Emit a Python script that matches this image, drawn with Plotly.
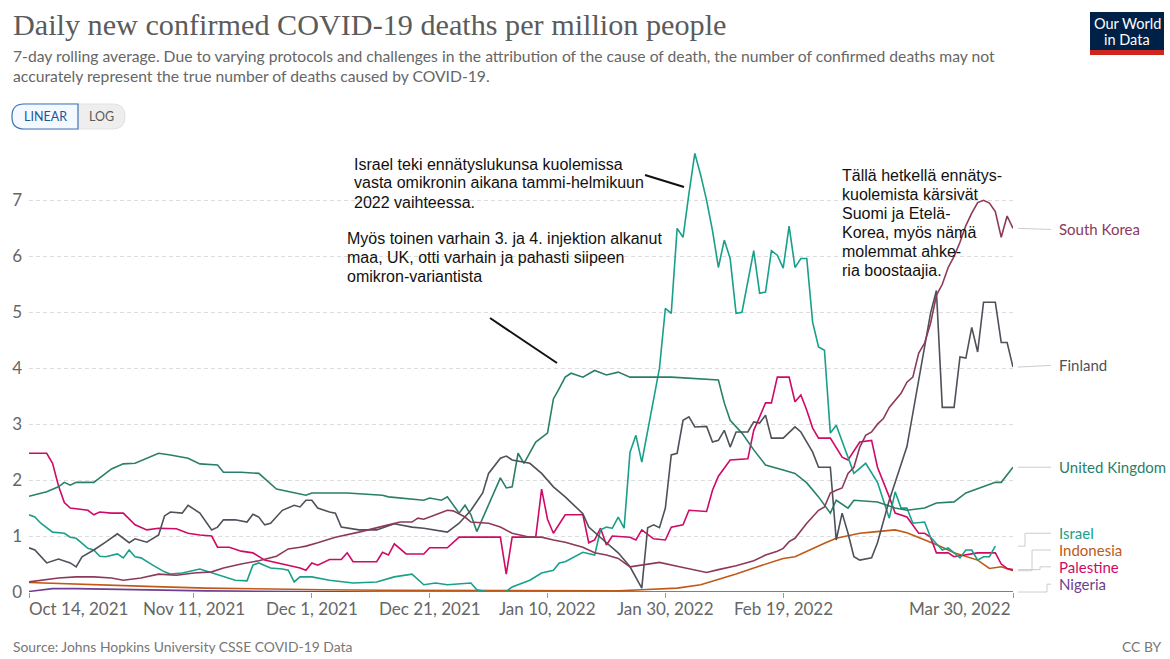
import plotly.graph_objects as go

# ---------------- data ----------------
uk_dates = ["2021-10-14","2021-10-16","2021-10-17","2021-10-19","2021-10-20","2021-10-21","2021-10-22","2021-10-25",
            "2021-10-28","2021-10-30","2021-11-01","2021-11-05","2021-11-07","2021-11-10","2021-11-12","2021-11-15",
            "2021-11-16","2021-11-19","2021-11-22","2021-11-25","2021-11-28","2021-11-30","2021-12-01","2021-12-07",
            "2021-12-13","2021-12-14","2021-12-20","2021-12-21","2021-12-23","2021-12-24","2021-12-26","2021-12-27",
            "2021-12-28","2021-12-29","2022-01-02","2022-01-03","2022-01-04","2022-01-05","2022-01-06","2022-01-08",
            "2022-01-10","2022-01-11","2022-01-12","2022-01-13","2022-01-14","2022-01-16","2022-01-18","2022-01-20",
            "2022-01-22","2022-01-24","2022-01-28","2022-01-31","2022-02-08","2022-02-09","2022-02-10","2022-02-12",
            "2022-02-14","2022-02-16","2022-02-19","2022-02-21","2022-02-23","2022-02-25","2022-02-27","2022-02-28",
            "2022-03-02","2022-03-03","2022-03-07","2022-03-10","2022-03-12","2022-03-15","2022-03-17","2022-03-20",
            "2022-03-22","2022-03-25","2022-03-27","2022-03-28","2022-03-29","2022-03-30"]
uk_values = [1.71,1.76,1.79,1.88,1.96,1.91,1.96,1.96,
             2.20,2.29,2.30,2.48,2.45,2.39,2.29,2.27,
             2.14,2.14,2.12,1.84,1.77,1.73,1.77,1.77,
             1.73,1.70,1.64,1.68,1.64,1.70,1.41,1.55,
             1.38,1.08,2.04,1.86,1.88,2.48,2.30,2.68,
             2.84,3.45,3.64,3.84,3.91,3.84,3.96,3.88,
             3.93,3.84,3.84,3.84,3.79,3.38,3.07,2.84,
             2.54,2.27,2.18,2.12,1.95,1.70,1.41,1.64,
             1.50,1.64,1.61,1.50,1.46,1.50,1.59,1.61,
             1.77,1.88,1.96,1.96,2.09,2.23]

israel_dates = ["2021-10-14","2021-10-15","2021-10-16","2021-10-18","2021-10-20","2021-10-21","2021-10-22","2021-10-24",
                "2021-10-25","2021-10-26","2021-10-27","2021-10-29","2021-10-30","2021-10-31","2021-11-01","2021-11-02",
                "2021-11-04","2021-11-06","2021-11-07","2021-11-09","2021-11-12","2021-11-14","2021-11-16","2021-11-18",
                "2021-11-20","2021-11-21","2021-11-22","2021-11-24","2021-11-26","2021-11-27","2021-11-28","2021-11-29",
                "2021-12-01","2021-12-04","2021-12-08","2021-12-12","2021-12-15","2021-12-18","2021-12-20","2021-12-22",
                "2021-12-24","2021-12-28","2021-12-29","2021-12-31","2022-01-03","2022-01-04","2022-01-07","2022-01-09",
                "2022-01-11","2022-01-12","2022-01-13","2022-01-16","2022-01-18","2022-01-19","2022-01-20","2022-01-21",
                "2022-01-22","2022-01-23","2022-01-24","2022-01-25","2022-01-26","2022-01-27","2022-01-29","2022-01-30",
                "2022-01-31","2022-02-01","2022-02-02","2022-02-03","2022-02-04","2022-02-05","2022-02-06","2022-02-07",
                "2022-02-08","2022-02-09","2022-02-10","2022-02-11","2022-02-12","2022-02-14","2022-02-15","2022-02-16",
                "2022-02-17","2022-02-18","2022-02-19","2022-02-20","2022-02-21","2022-02-22","2022-02-23","2022-02-24",
                "2022-02-25","2022-02-26","2022-02-27","2022-02-28","2022-03-03","2022-03-05","2022-03-07","2022-03-09",
                "2022-03-10","2022-03-11","2022-03-12","2022-03-13","2022-03-15","2022-03-16","2022-03-18","2022-03-19",
                "2022-03-21","2022-03-22","2022-03-23","2022-03-24","2022-03-25","2022-03-26","2022-03-27"]
israel_values = [1.38,1.34,1.23,1.07,1.05,0.98,0.96,0.78,
                 0.75,0.64,0.63,0.68,0.61,0.75,0.63,0.61,
                 0.48,0.36,0.32,0.34,0.41,0.34,0.27,0.21,
                 0.20,0.48,0.52,0.43,0.41,0.39,0.18,0.27,
                 0.27,0.21,0.16,0.18,0.27,0.32,0.13,0.16,
                 0.13,0.16,0.04,0.00,0.01,0.09,0.21,0.34,
                 0.39,0.52,0.54,0.71,0.66,1.11,1.16,1.14,
                 1.34,1.14,2.50,2.80,2.32,2.89,4.00,5.07,
                 4.98,6.50,6.34,7.12,7.84,7.45,7.00,6.46,
                 5.80,6.29,5.96,4.98,5.00,6.10,5.34,5.36,
                 6.10,6.02,5.79,6.54,5.80,5.96,5.96,4.82,
                 4.38,4.32,2.84,2.98,2.12,2.30,1.96,1.32,
                 1.79,1.50,1.50,1.23,1.25,0.98,0.75,0.79,
                 0.61,0.75,0.75,0.57,0.63,0.63,0.82]

finland_dates = ["2021-10-14","2021-10-15","2021-10-17","2021-10-19","2021-10-21","2021-10-22","2021-10-23","2021-10-25",
                 "2021-10-27","2021-10-29","2021-10-31","2021-11-01","2021-11-03","2021-11-05","2021-11-06","2021-11-07",
                 "2021-11-09","2021-11-10","2021-11-12","2021-11-14","2021-11-15","2021-11-16","2021-11-18","2021-11-20",
                 "2021-11-21","2021-11-22","2021-11-23","2021-11-24","2021-11-26","2021-11-28","2021-11-29","2021-11-30",
                 "2021-12-01","2021-12-02","2021-12-04","2021-12-05","2021-12-06","2021-12-07","2021-12-09","2021-12-12",
                 "2021-12-15","2021-12-18","2021-12-20","2021-12-24","2021-12-26","2021-12-28","2021-12-30","2021-12-31",
                 "2022-01-02","2022-01-03","2022-01-04","2022-01-07","2022-01-09","2022-01-11","2022-01-13","2022-01-16",
                 "2022-01-17","2022-01-20","2022-01-22","2022-01-24","2022-01-26","2022-01-27","2022-01-28","2022-01-29",
                 "2022-01-30","2022-01-31","2022-02-01","2022-02-02","2022-02-03","2022-02-04","2022-02-06","2022-02-07",
                 "2022-02-08","2022-02-09","2022-02-10","2022-02-11","2022-02-13","2022-02-14","2022-02-15","2022-02-16",
                 "2022-02-17","2022-02-19","2022-02-21","2022-02-22","2022-02-24","2022-02-25","2022-02-27","2022-02-28",
                 "2022-03-01","2022-03-02","2022-03-03","2022-03-04","2022-03-06","2022-03-07","2022-03-09","2022-03-12",
                 "2022-03-13","2022-03-14","2022-03-15","2022-03-16","2022-03-17","2022-03-18","2022-03-20","2022-03-21",
                 "2022-03-22","2022-03-23","2022-03-24","2022-03-25","2022-03-27","2022-03-28","2022-03-29","2022-03-30"]
finland_values = [0.79,0.75,0.52,0.59,0.52,0.45,0.63,0.75,
                  0.89,1.04,0.88,0.95,0.89,1.02,1.36,1.43,
                  1.41,1.55,1.41,1.11,1.16,1.29,1.29,1.25,
                  1.39,1.34,1.20,1.23,1.46,1.55,1.52,1.64,
                  1.64,1.50,1.43,1.41,1.16,1.14,1.11,1.11,
                  1.22,1.16,1.14,1.07,1.23,1.46,1.77,2.12,
                  2.39,2.43,2.36,2.30,2.12,1.88,1.70,1.40,
                  1.16,0.88,0.70,0.45,0.07,1.15,1.20,1.15,
                  1.50,2.45,2.48,3.07,3.13,2.95,2.96,2.68,
                  2.71,2.89,2.59,2.86,2.86,3.04,3.02,3.16,
                  2.75,2.75,2.95,2.86,2.50,2.23,2.23,0.93,
                  1.41,1.05,0.63,0.57,0.61,0.88,1.64,2.60,
                  3.20,3.80,4.45,4.98,5.39,3.30,3.30,4.20,
                  4.18,4.73,4.29,5.18,5.18,4.46,4.46,4.02]

skorea_dates = ["2021-10-14","2021-10-16","2021-10-19","2021-10-22","2021-10-25","2021-10-28","2021-10-30","2021-11-02",
                "2021-11-05","2021-11-08","2021-11-11","2021-11-14","2021-11-16","2021-11-19","2021-11-22","2021-11-25",
                "2021-11-27","2021-11-29","2021-11-30","2021-12-02","2021-12-05","2021-12-09","2021-12-12","2021-12-14",
                "2021-12-16","2021-12-18","2021-12-19","2021-12-20","2021-12-22","2021-12-24","2021-12-25","2021-12-27",
                "2021-12-28","2021-12-31","2022-01-02","2022-01-04","2022-01-07","2022-01-09","2022-01-11","2022-01-13",
                "2022-01-16","2022-01-18","2022-01-20","2022-01-22","2022-01-24","2022-01-26","2022-01-29","2022-02-01",
                "2022-02-04","2022-02-06","2022-02-08","2022-02-11","2022-02-14","2022-02-16","2022-02-18","2022-02-19",
                "2022-02-20","2022-02-21","2022-02-23","2022-02-25","2022-02-26","2022-02-27","2022-02-28","2022-03-01",
                "2022-03-02","2022-03-03","2022-03-04","2022-03-05","2022-03-06","2022-03-07","2022-03-08","2022-03-09",
                "2022-03-11","2022-03-12","2022-03-13","2022-03-14","2022-03-15","2022-03-16","2022-03-17","2022-03-18",
                "2022-03-19","2022-03-20","2022-03-21","2022-03-22","2022-03-23","2022-03-24","2022-03-25","2022-03-26",
                "2022-03-27","2022-03-28","2022-03-29","2022-03-30"]
skorea_values = [0.18,0.21,0.25,0.27,0.27,0.25,0.21,0.25,
                 0.32,0.30,0.34,0.36,0.43,0.50,0.56,0.64,
                 0.77,0.80,0.82,0.88,0.98,1.07,1.14,1.20,
                 1.25,1.25,1.32,1.30,1.38,1.46,1.45,1.34,
                 1.25,1.23,1.16,1.05,0.98,0.98,0.93,0.89,
                 0.80,0.70,0.66,0.60,0.45,0.48,0.53,0.46,
                 0.39,0.35,0.40,0.47,0.56,0.66,0.73,0.78,
                 0.90,0.96,1.23,1.46,1.52,1.77,1.82,1.86,
                 2.12,2.23,2.59,2.80,2.86,3.00,3.10,3.30,
                 3.55,3.75,3.84,4.27,4.45,4.80,5.30,5.50,
                 5.80,6.00,6.25,6.55,6.77,6.96,7.00,6.95,
                 6.80,6.34,6.72,6.50]

palestine_dates = ["2021-10-14","2021-10-17","2021-10-18","2021-10-19","2021-10-20","2021-10-21","2021-10-24","2021-10-25",
                   "2021-10-26","2021-10-28","2021-10-30","2021-11-01","2021-11-03","2021-11-05","2021-11-08","2021-11-10",
                   "2021-11-12","2021-11-14","2021-11-15","2021-11-17","2021-11-19","2021-11-21","2021-11-23","2021-11-25",
                   "2021-11-27","2021-11-29","2021-11-30","2021-12-01","2021-12-02","2021-12-04","2021-12-06","2021-12-07",
                   "2021-12-08","2021-12-12","2021-12-13","2021-12-14","2021-12-15","2021-12-17","2021-12-20","2021-12-21",
                   "2021-12-24","2021-12-26","2022-01-02","2022-01-03","2022-01-04","2022-01-08","2022-01-09","2022-01-10",
                   "2022-01-11","2022-01-13","2022-01-16","2022-01-17","2022-01-18","2022-01-19","2022-01-20","2022-01-21",
                   "2022-01-24","2022-01-25","2022-01-26","2022-01-28","2022-01-30","2022-01-31","2022-02-02","2022-02-03",
                   "2022-02-06","2022-02-07","2022-02-08","2022-02-10","2022-02-13","2022-02-14","2022-02-15","2022-02-16",
                   "2022-02-17","2022-02-18","2022-02-20","2022-02-21","2022-02-22","2022-02-23","2022-02-24","2022-02-25",
                   "2022-02-27","2022-03-01","2022-03-02","2022-03-04","2022-03-06","2022-03-07","2022-03-09","2022-03-10",
                   "2022-03-12","2022-03-14","2022-03-15","2022-03-16","2022-03-17","2022-03-19","2022-03-20","2022-03-24",
                   "2022-03-27","2022-03-28","2022-03-29","2022-03-30"]
palestine_values = [2.48,2.48,2.30,1.90,1.60,1.50,1.46,1.38,
                    1.43,1.41,1.41,1.20,1.11,1.14,1.13,1.05,
                    1.02,1.00,0.80,0.80,0.73,0.70,0.57,0.52,
                    0.48,0.43,0.39,0.52,0.48,0.58,0.58,0.70,
                    0.54,0.54,0.71,0.66,0.86,0.68,0.68,0.79,
                    0.79,0.98,0.98,0.32,0.98,0.98,1.84,1.30,
                    1.05,1.38,1.38,0.88,0.93,1.14,0.84,1.00,
                    0.98,0.93,1.11,0.95,0.93,1.16,1.20,1.46,
                    1.44,1.82,2.07,2.36,2.38,2.89,3.13,3.38,
                    3.38,3.84,3.84,3.40,3.52,3.25,2.93,2.75,
                    2.75,2.41,2.36,2.68,2.71,2.23,1.70,1.41,
                    1.34,1.05,1.05,0.98,0.70,0.70,0.63,0.70,
                    0.70,0.50,0.42,0.40]

indonesia_dates = ["2021-10-14","2021-10-19","2021-10-24","2021-11-03","2021-11-13","2021-11-23","2021-12-03","2021-12-13",
                   "2022-01-02","2022-01-22","2022-01-26","2022-02-01","2022-02-05","2022-02-08","2022-02-11","2022-02-14",
                   "2022-02-16","2022-02-19","2022-02-21","2022-02-23","2022-02-26","2022-02-28","2022-03-02","2022-03-04",
                   "2022-03-06","2022-03-08","2022-03-10","2022-03-12","2022-03-14","2022-03-16","2022-03-18","2022-03-20",
                   "2022-03-24","2022-03-26","2022-03-28","2022-03-30"]
indonesia_values = [0.17,0.15,0.13,0.10,0.07,0.05,0.04,0.03,
                    0.02,0.02,0.04,0.07,0.13,0.22,0.32,0.43,
                    0.50,0.60,0.63,0.73,0.87,0.96,1.00,1.05,
                    1.07,1.09,1.11,1.06,0.98,0.89,0.80,0.70,
                    0.57,0.42,0.45,0.38]

nigeria_dates = ["2021-10-14","2021-10-18","2021-10-22","2021-10-27","2021-11-03","2021-11-13","2021-11-28","2021-12-13",
                 "2022-01-22","2022-03-30"]
nigeria_values = [0.01,0.06,0.06,0.05,0.03,0.02,0.01,0.00,0.00,0.00]

# series: name, dates, values, colour, label position (value units)
series = [
    ("Nigeria", nigeria_dates, nigeria_values, "#6D3E91", 0.14),
    ("Indonesia", indonesia_dates, indonesia_values, "#C05917", 0.75),
    ("Palestine", palestine_dates, palestine_values, "#CF0A66", 0.45),
    ("Israel", israel_dates, israel_values, "#18A08A", 1.05),
    ("United Kingdom", uk_dates, uk_values, "#2A7F6A", 2.23),
    ("Finland", finland_dates, finland_values, "#4E5159", 4.05),
    ("South Korea", skorea_dates, skorea_values, "#8C3A5A", 6.48),
]

tick_dates = ["2021-10-14","2021-11-11","2021-12-01","2021-12-21","2022-01-10","2022-01-30","2022-02-19","2022-03-30"]
tick_labels = ["Oct 14, 2021","Nov 11, 2021","Dec 1, 2021","Dec 21, 2021","Jan 10, 2022","Jan 30, 2022","Feb 19, 2022","Mar 30, 2022"]
y_ticks = [0, 1, 2, 3, 4, 5, 6, 7]

# ---------------- layout geometry ----------------
W, H = 1170, 659
ML, MR, MT, MB = 29, 157, 150, 67
PW = W - ML - MR
PH = H - MT - MB
YMAX = 7.9


def px(x):
    return (x - ML) / PW


def py(y):
    return (H - MB - y) / PH


def vy(v):
    return v / YMAX


LATO = "Lato, 'Open Sans', sans-serif"
ARIAL = "'Liberation Sans', Arial, sans-serif"

fig = go.Figure()
for name, d, v, c, _ in series:
    fig.add_trace(go.Scatter(x=d, y=v, mode="lines", name=name,
                             line=dict(color=c, width=1.6), hoverinfo="skip"))

annotations = []
shapes = []


def text(x, y, t, size, color, family=LATO, xa="center", ya="middle", align="left"):
    annotations.append(dict(xref="paper", yref="paper", x=px(x), y=py(y), xanchor=xa, yanchor=ya, align=align,
                            text=t, showarrow=False, font=dict(family=family, size=size, color=color)))


# title, subtitle
text(11, 6, "Daily new confirmed COVID-19 deaths per million people", 30.2, "#5b5b5b",
     family="'Liberation Serif', 'DejaVu Serif', serif", xa="left", ya="top")
text(11, 45, "7-day rolling average. Due to varying protocols and challenges in the attribution of the cause of death, the number of confirmed deaths may not<br>accurately represent the true number of deaths caused by COVID-19.",
     15.7, "#666666", xa="left", ya="top")


def rounded(x0, y0, x1, y1, rl, rr):
    s = f"M {px(x0 + rl)},{py(y0)} L {px(x1 - rr)},{py(y0)} "
    if rr:
        s += f"Q {px(x1)},{py(y0)} {px(x1)},{py(y0 + rr)} L {px(x1)},{py(y1 - rr)} Q {px(x1)},{py(y1)} {px(x1 - rr)},{py(y1)} "
    else:
        s += f"L {px(x1)},{py(y0)} L {px(x1)},{py(y1)} "
    s += f"L {px(x0 + rl)},{py(y1)} "
    if rl:
        s += f"Q {px(x0)},{py(y1)} {px(x0)},{py(y1 - rl)} L {px(x0)},{py(y0 + rl)} Q {px(x0)},{py(y0)} {px(x0 + rl)},{py(y0)} Z"
    else:
        s += f"L {px(x0)},{py(y1)} L {px(x0)},{py(y0)} Z"
    return s


# LINEAR / LOG toggle
shapes.append(dict(type="path", xref="paper", yref="paper", path=rounded(12, 104, 125, 129, 12, 12),
                   fillcolor="#eeeeee", line=dict(color="#e2e2e2", width=1), layer="above"))
shapes.append(dict(type="path", xref="paper", yref="paper", path=rounded(12, 104, 78, 129, 12, 0),
                   fillcolor="#f4f9ff", line=dict(color="#3f73b8", width=1.2), layer="above"))
text(45, 116.5, "LINEAR", 12.5, "#1d5598")
text(101, 116.5, "LOG", 12.5, "#5b5b5b")

# logo
shapes.append(dict(type="rect", xref="paper", yref="paper", x0=px(1090), x1=px(1164), y0=py(12), y1=py(50),
                   fillcolor="#002147", line=dict(width=0), layer="above"))
shapes.append(dict(type="rect", xref="paper", yref="paper", x0=px(1090), x1=px(1164), y0=py(50), y1=py(55),
                   fillcolor="#ce261e", line=dict(width=0), layer="above"))
text(1127, 23.5, "Our World", 14.5, "#ffffff")
text(1127, 39.5, "in Data", 14.5, "#ffffff")

# footer
text(11, 646, "Source: Johns Hopkins University CSSE COVID-19 Data", 13.9, "#777777", xa="left")
text(1164, 646, "CC BY", 13.9, "#777777", xa="right")

# x tick labels
for i, (d, t) in enumerate(zip(tick_dates, tick_labels)):
    anchor = "left" if i == 0 else ("right" if i == len(tick_dates) - 1 else "center")
    xs = -2 if i == 0 else 0
    annotations.append(dict(xref="x", yref="paper", x=d, y=0, xanchor=anchor, yanchor="top", yshift=-4, xshift=xs,
                            text=t, showarrow=False, font=dict(family=LATO, size=17, color="#666666")))

# series labels + connectors
x_start, x_end, x_label = px(1018), px(1051), px(1057)
elbows = {"Israel": px(1025), "Indonesia": px(1032), "Palestine": px(1040), "Nigeria": px(1047)}
for name, d, v, c, ly in series:
    annotations.append(dict(xref="paper", yref="y", x=x_label, y=ly, xanchor="left", yanchor="middle",
                            text=name, showarrow=False, font=dict(family=LATO, size=15, color=c)))
    last = v[-1]
    if name in elbows:
        ex = elbows[name]
        shapes.append(dict(type="line", xref="paper", yref="paper", x0=x_start, x1=ex, y0=vy(last), y1=vy(last),
                           line=dict(color="#cccccc", width=1)))
        shapes.append(dict(type="line", xref="paper", yref="paper", x0=ex, x1=ex, y0=vy(last), y1=vy(ly),
                           line=dict(color="#cccccc", width=1)))
        shapes.append(dict(type="line", xref="paper", yref="paper", x0=ex, x1=x_end, y0=vy(ly), y1=vy(ly),
                           line=dict(color="#cccccc", width=1)))
    else:
        shapes.append(dict(type="line", xref="paper", yref="paper", x0=x_start, x1=x_end, y0=vy(last), y1=vy(ly),
                           line=dict(color="#cccccc", width=1)))

# notes (each line as its own text to keep the 19px leading)
notes = [
    (352, 164, ["Israel teki ennätyslukunsa kuolemissa", "vasta omikronin aikana tammi-helmikuun", "2022 vaihteessa."]),
    (345, 238, ["Myös toinen varhain 3. ja 4. injektion alkanut", "maa, UK, otti varhain ja pahasti siipeen", "omikron-variantista"]),
    (840, 175, ["Tällä hetkellä ennätys-", "kuolemista kärsivät", "Suomi ja Etelä-", "Korea, myös nämä",
                "molemmat ahke-", "ria boostaajia."]),
]
for x0, y0, lines in notes:
    for k, line in enumerate(lines):
        text(x0, y0 + 19 * k, line, 16, "#111111", family=ARIAL, xa="left")
shapes.append(dict(type="line", xref="paper", yref="paper", x0=px(645), y0=py(175), x1=px(684), y1=py(187),
                   line=dict(color="#111111", width=2)))
shapes.append(dict(type="line", xref="paper", yref="paper", x0=px(490), y0=py(318), x1=px(557), y1=py(363),
                   line=dict(color="#111111", width=2)))

fig.update_layout(
    width=W, height=H,
    margin=dict(l=ML, r=MR, t=MT, b=MB, pad=0),
    paper_bgcolor="white", plot_bgcolor="white",
    showlegend=False,
    annotations=annotations,
    shapes=shapes,
    xaxis=dict(type="date", range=["2021-10-14", "2022-03-30"], showgrid=False, zeroline=False,
               showline=False, tickvals=tick_dates, showticklabels=False, ticks="outside", ticklen=5,
               tickcolor="#999999", tickwidth=1, fixedrange=True),
    yaxis=dict(range=[0, YMAX], tickvals=y_ticks, showgrid=True, gridcolor="#dddddd", griddash="4px,3px",
               zeroline=False, showline=False, ticks="", ticklabelstandoff=6,
               tickfont=dict(family=LATO, size=17, color="#666666"), fixedrange=True),
)

fig.write_html("out.html")
